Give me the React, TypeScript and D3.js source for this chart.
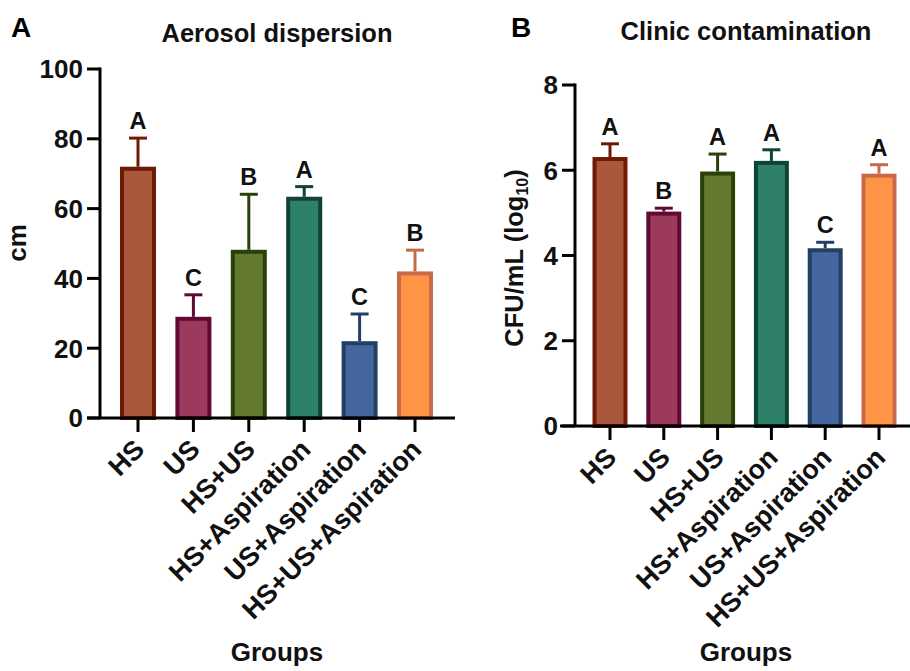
import React from "react";
import * as d3 from "d3";

const groups = ["HS", "US", "HS+US", "HS+Aspiration", "US+Aspiration", "HS+US+Aspiration"];
const fills = ["#A9583B", "#9C3A5E", "#62792F", "#2E8068", "#4467A0", "#FF9447"];
const strokes = ["#6E1A04", "#5E0A33", "#294008", "#0D4434", "#233F66", "#C8694A"];

const aerosolMean = [72, 29, 48.2, 63.4, 22, 42];
const aerosolErr = [80.2, 35.3, 64.1, 66.3, 29.8, 48.1];
const aerosolLetters = ["A", "C", "B", "A", "C", "B"];
const aerosolTicks = [0, 20, 40, 60, 80, 100];

const clinicMean = [6.31, 5.03, 5.97, 6.22, 4.17, 5.92];
const clinicErr = [6.62, 5.11, 6.38, 6.48, 4.31, 6.13];
const clinicLetters = ["A", "B", "A", "A", "C", "A"];
const clinicTicks = [0, 2, 4, 6, 8];

const FONT = "'Liberation Sans', Arial, Helvetica, sans-serif";

type PanelProps = {
  means: number[];
  errs: number[];
  letters: string[];
  ticks: number[];
  yMax: number;
  xRange: [number, number];
  yRange: [number, number];
  axisX: number;
  xAxisStart: number;
  xAxisEnd: number;
  title: string;
  titleX: number;
  titleY: number;
  panel: string;
  panelX: number;
  yLabel: React.ReactNode;
};

function Panel(p: PanelProps) {
  const x = d3.scaleBand<string>().domain(groups).range(p.xRange).paddingInner(0.35).paddingOuter(0.175);
  const y = d3.scaleLinear().domain([0, p.yMax]).range(p.yRange);
  const bw = x.bandwidth();
  const y0 = y(0);
  return (
    <g>
      <text x={p.panelX} y={37} fontFamily={FONT} fontWeight="bold" fontSize={28} fill="#000">{p.panel}</text>
      <text x={p.titleX} y={p.titleY} textAnchor="middle" fontFamily={FONT} fontWeight="bold" fontSize={25.5} fill="#111">{p.title}</text>
      {p.yLabel}
      {groups.map((g, i) => {
        const cx = (x(g) as number) + bw / 2;
        const top = y(p.means[i]);
        const et = y(p.errs[i]);
        return (
          <g key={g}>
            <line x1={cx} x2={cx} y1={top} y2={et} stroke={strokes[i]} strokeWidth={3} />
            <line x1={cx - 9} x2={cx + 9} y1={et} y2={et} stroke={strokes[i]} strokeWidth={3} />
            <rect x={cx - bw / 2 + 2} y={top + 2} width={bw - 4} height={y0 - top - 2} fill={fills[i]} stroke={strokes[i]} strokeWidth={4} />
            <text x={cx} y={et - 9} textAnchor="middle" fontFamily={FONT} fontWeight="bold" fontSize={23.5} fill="#111">{p.letters[i]}</text>
            <line x1={cx} x2={cx} y1={y0} y2={y0 + 14} stroke="#000" strokeWidth={3} />
            <text transform={`translate(${cx + 8},${y0 + 33}) rotate(-45)`} textAnchor="end" fontFamily={FONT} fontWeight="bold" fontSize={27} fill="#111">{g}</text>
          </g>
        );
      })}
      <line x1={p.axisX} x2={p.axisX} y1={y0} y2={y(p.yMax) - 1.5} stroke="#000" strokeWidth={3} />
      <line x1={p.xAxisStart} x2={p.xAxisEnd} y1={y0} y2={y0} stroke="#000" strokeWidth={3} />
      {p.ticks.map((t) => (
        <g key={t}>
          <line x1={p.axisX - 13} x2={p.axisX} y1={y(t)} y2={y(t)} stroke="#000" strokeWidth={3} />
          <text x={p.axisX - 17} y={y(t)} dy="0.36em" textAnchor="end" fontFamily={FONT} fontWeight="bold" fontSize={26} fill="#111">{t}</text>
        </g>
      ))}
      <text x={p.titleX} y={661} textAnchor="middle" fontFamily={FONT} fontWeight="bold" fontSize={26} fill="#111">Groups</text>
    </g>
  );
}

export default function App() {
  return (
    <svg width={910} height={671} style={{ position: "absolute", left: 0, top: 0, background: "#fff" }}>
      <rect width={910} height={671} fill="#fff" />
      <Panel
        means={aerosolMean}
        errs={aerosolErr}
        letters={aerosolLetters}
        ticks={aerosolTicks}
        yMax={100}
        xRange={[110.3, 442.7]}
        yRange={[418, 69]}
        axisX={100}
        xAxisStart={87}
        xAxisEnd={455}
        title="Aerosol dispersion"
        titleX={277}
        titleY={42}
        panel="A"
        panelX={11}
        yLabel={
          <text transform="translate(26,243) rotate(-90)" textAnchor="middle" fontFamily={FONT} fontWeight="bold" fontSize={26} fill="#111">cm</text>
        }
      />
      <Panel
        means={clinicMean}
        errs={clinicErr}
        letters={clinicLetters}
        ticks={clinicTicks}
        yMax={8}
        xRange={[583.1, 905.9]}
        yRange={[426, 85]}
        axisX={575}
        xAxisStart={560}
        xAxisEnd={910}
        title="Clinic contamination"
        titleX={746}
        titleY={40}
        panel="B"
        panelX={511}
        yLabel={
          <text transform="translate(523,258) rotate(-90)" textAnchor="middle" fontFamily={FONT} fontWeight="bold" fontSize={25.5} fill="#111">
            CFU/mL (log<tspan fontSize={16} dy="5">10</tspan><tspan dy="-5">)</tspan>
          </text>
        }
      />
    </svg>
  );
}
